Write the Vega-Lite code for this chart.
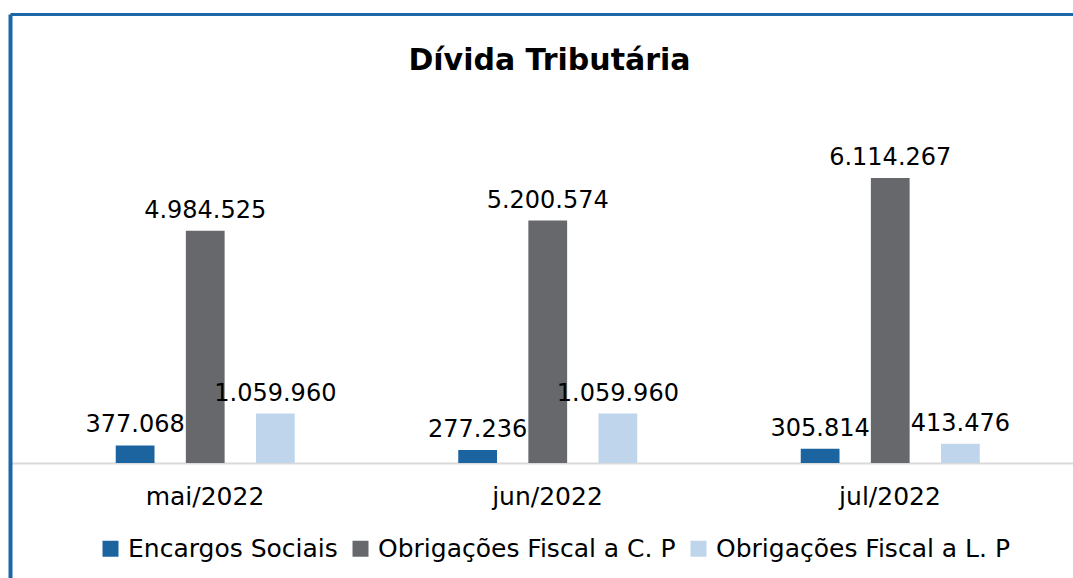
{
  "$schema": "https://vega.github.io/schema/vega-lite/v6.json",
  "width": 1063,
  "height": 564,
  "autosize": {"type": "none"},
  "padding": {"left": 10, "top": 14, "right": 0, "bottom": 0},
  "background": "white",
  "title": {
    "text": "Dívida Tributária",
    "orient": "top",
    "anchor": "middle",
    "frame": "group",
    "offset": -86,
    "baseline": "alphabetic",
    "dx": 8,
    "font": "DejaVu Sans",
    "fontSize": 30,
    "fontWeight": "bold",
    "color": "#000000"
  },
  "config": {
    "view": {"stroke": null},
    "font": "DejaVu Sans",
    "locale": {"number": {"decimal": ",", "thousands": ".", "grouping": [3], "currency": ["R$", ""]}}
  },
  "data": {
    "values": [
      {"mes": "mai/2022", "serie": "Encargos Sociais", "valor": 377068},
      {"mes": "mai/2022", "serie": "Obrigações Fiscal a C. P", "valor": 4984525},
      {"mes": "mai/2022", "serie": "Obrigações Fiscal a L. P", "valor": 1059960},
      {"mes": "jun/2022", "serie": "Encargos Sociais", "valor": 277236},
      {"mes": "jun/2022", "serie": "Obrigações Fiscal a C. P", "valor": 5200574},
      {"mes": "jun/2022", "serie": "Obrigações Fiscal a L. P", "valor": 1059960},
      {"mes": "jul/2022", "serie": "Encargos Sociais", "valor": 305814},
      {"mes": "jul/2022", "serie": "Obrigações Fiscal a C. P", "valor": 6114267},
      {"mes": "jul/2022", "serie": "Obrigações Fiscal a L. P", "valor": 413476}
    ]
  },
  "encoding": {
    "y": {
      "field": "valor",
      "type": "quantitative",
      "scale": {"domain": [-2467100, 9632700], "nice": false},
      "axis": {"domain": true, "domainColor": "#1c67a8", "domainWidth": 4, "ticks": false, "labels": false, "grid": false, "title": null}
    }
  },
  "layer": [
    {
      "mark": {"type": "bar"},
      "encoding": {
        "x": {
          "field": "mes",
          "type": "nominal",
          "sort": ["mai/2022", "jun/2022", "jul/2022"],
          "scale": {"paddingInner": 0, "paddingOuter": 0.0518, "align": 0.669},
          "axis": {"orient": "bottom", "offset": -115, "title": null, "ticks": false, "domainColor": "#d9d9d9", "domainWidth": 2, "labelFontSize": 25, "labelColor": "#000000", "labelPadding": 21, "labelAngle": 0, "labelFont": "DejaVu Sans", "grid": false}
        },
        "xOffset": {
          "field": "serie",
          "type": "nominal",
          "scale": {"range": [82, 261], "paddingInner": 0.447, "paddingOuter": 0}
        },
        "color": {
          "field": "serie",
          "type": "nominal",
          "scale": {
            "domain": ["Encargos Sociais", "Obrigações Fiscal a C. P", "Obrigações Fiscal a L. P"],
            "range": ["#1c64a0", "#66686b", "#bfd5ec"]
          },
          "legend": {
            "title": null,
            "orient": "none",
            "legendX": 88,
            "legendY": 522,
            "direction": "horizontal",
            "symbolType": "square",
            "symbolSize": 256,
            "symbolStrokeWidth": 0,
            "labelFontSize": 25,
            "labelColor": "#000000",
            "labelFont": "DejaVu Sans",
            "labelLimit": 0,
            "columnPadding": 10,
            "labelOffset": 5
          }
        }
      }
    },
    {
      "mark": {"type": "text", "baseline": "alphabetic", "dy": -13, "fontSize": 24, "color": "#000000", "font": "DejaVu Sans"},
      "encoding": {
        "x": {
          "field": "mes",
          "type": "nominal",
          "sort": ["mai/2022", "jun/2022", "jul/2022"],
          "axis": {"orient": "top", "title": null, "ticks": false, "labels": false, "domainColor": "#1c67a8", "domainWidth": 3, "grid": false}
        },
        "xOffset": {"field": "serie", "type": "nominal"},
        "text": {"field": "valor", "type": "quantitative", "format": ",d"}
      }
    }
  ],
  "resolve": {"axis": {"x": "independent"}}
}
